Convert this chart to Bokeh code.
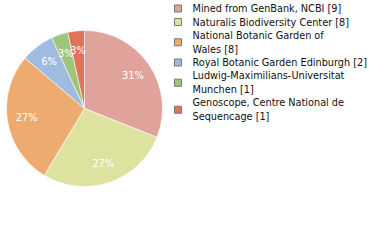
import math
from bokeh.plotting import figure
from bokeh.models import Range1d, ColumnDataSource
from bokeh.core.properties import value
from bokeh.embed import file_html
from bokeh.resources import INLINE

labels = ["Mined from GenBank, NCBI [9]",
          "Naturalis Biodiversity Center [8]",
          "National Botanic Garden of\nWales [8]",
          "Royal Botanic Garden Edinburgh [2]",
          "Ludwig-Maximilians-Universitat\nMunchen [1]",
          "Genoscope, Centre National de\nSequencage [1]"]
counts = [9, 8, 8, 2, 1, 1]
pct_labels = ["31%", "27%", "27%", "6%", "3%", "3%"]
colors = ["#e0a39b", "#dde29f", "#eeab6f", "#9fbce0", "#9fc57b", "#e0735a"]

W, H = 380, 240
cx, cy, R = 84, H - 108, 78
total = sum(counts)

starts, ends, lx, ly = [], [], [], []
acc = 0
for c in counts:
    a0 = math.pi / 2 - 2 * math.pi * acc / total
    a1 = math.pi / 2 - 2 * math.pi * (acc + c) / total
    starts.append(a1)
    ends.append(a0)
    mid = (a0 + a1) / 2
    lx.append(cx + 0.75 * R * math.cos(mid))
    ly.append(cy + 0.75 * R * math.sin(mid))
    acc += c

src = ColumnDataSource(dict(start=starts, end=ends, color=colors, lx=lx, ly=ly, pct=pct_labels))

p = figure(width=W, height=H, x_range=Range1d(0, W), y_range=Range1d(0, H),
           output_backend="svg", toolbar_location=None, min_border=0)
p.axis.visible = False
p.grid.visible = False
p.outline_line_color = None
p.background_fill_color = "white"

p.wedge(x=cx, y=cy, radius=R, start_angle="start", end_angle="end", source=src,
        fill_color="color", line_color="white", line_width=0.6)
p.text(x="lx", y="ly", text="pct", source=src, text_color="white",
       text_font=value("DejaVu Sans Condensed"), text_font_size="11px",
       text_align="center", text_baseline="middle")

# legend
line_idx = []
li = 0
for lab in labels:
    n = lab.count("\n") + 1
    line_idx.append(li + (n - 1) / 2)
    li += n
ys = [H - (8 + 13.5 * i) for i in line_idx]
lsrc = ColumnDataSource(dict(y=ys, color=colors, lab=labels))
p.rect(x=177.5, y="y", width=7, height=7, source=lsrc, fill_color="color",
       line_color="#777777", line_width=1)
p.text(x=192, y="y", text="lab", source=lsrc, text_color="#111111",
       text_font=value("DejaVu Sans Condensed"), text_font_size="10.8px",
       text_align="left", text_baseline="middle", text_line_height=1.07)

open("out.html", "w").write(file_html(p, INLINE))
